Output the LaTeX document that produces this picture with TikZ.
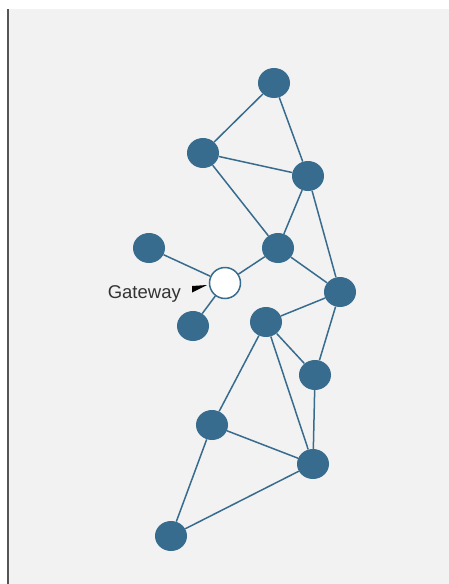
\documentclass[tikz,border=0pt]{standalone}
\usepackage{fontspec}
\setmainfont{Liberation Sans}
\usetikzlibrary{shapes.geometric}
\definecolor{nodeblue}{HTML}{386C8E}
\definecolor{bg}{HTML}{F2F2F2}
\definecolor{axis}{HTML}{555555}
\begin{document}
\begin{tikzpicture}[x=1pt,y=-1pt,
  dot/.style={ellipse,fill=nodeblue,minimum width=32pt,minimum height=30pt,inner sep=0pt},
  gate/.style={circle,draw=nodeblue,line width=1.5pt,fill=white,minimum size=31pt,inner sep=0pt},
  link/.style={draw=nodeblue,line width=1.5pt}]
\useasboundingbox (0,0) rectangle (449,584);
\fill[white] (0,0) rectangle (449,584);
\fill[bg] (8,9) rectangle (449,584);
\draw[axis,line width=1.3pt] (8,9) -- (8,584);
\node[dot] (A) at (274,83) {};
\node[dot] (B) at (203,153) {};
\node[dot] (C) at (308,176) {};
\node[dot] (D) at (278,248) {};
\node[dot] (E) at (149,248) {};
\node[dot] (F) at (193,326) {};
\node[dot] (H) at (340,292) {};
\node[dot] (I) at (266,322) {};
\node[dot] (J) at (315,375) {};
\node[dot] (K) at (212,425) {};
\node[dot] (L) at (313,464) {};
\node[dot] (M) at (171,536) {};
\path[link] (A) -- (B) (A) -- (C) (B) -- (C) (B) -- (D) (C) -- (D) (C) -- (H)
  (D) -- (H) (H) -- (I) (H) -- (J) (I) -- (J) (I) -- (K) (I) -- (L) (J) -- (L)
  (K) -- (L) (K) -- (M) (L) -- (M);
\node[gate] (G) at (225,283) {};
\path[link] (D) -- (G) (E) -- (G) (G) -- (F);
\node[anchor=base east,font=\fontsize{18.5}{22}\selectfont,text=black!80,inner sep=0pt] (lab) at (181,298) {Gateway};
\fill[black] (192,286) -- (207,285) -- (192,292.5) -- cycle;
\end{tikzpicture}
\end{document}
